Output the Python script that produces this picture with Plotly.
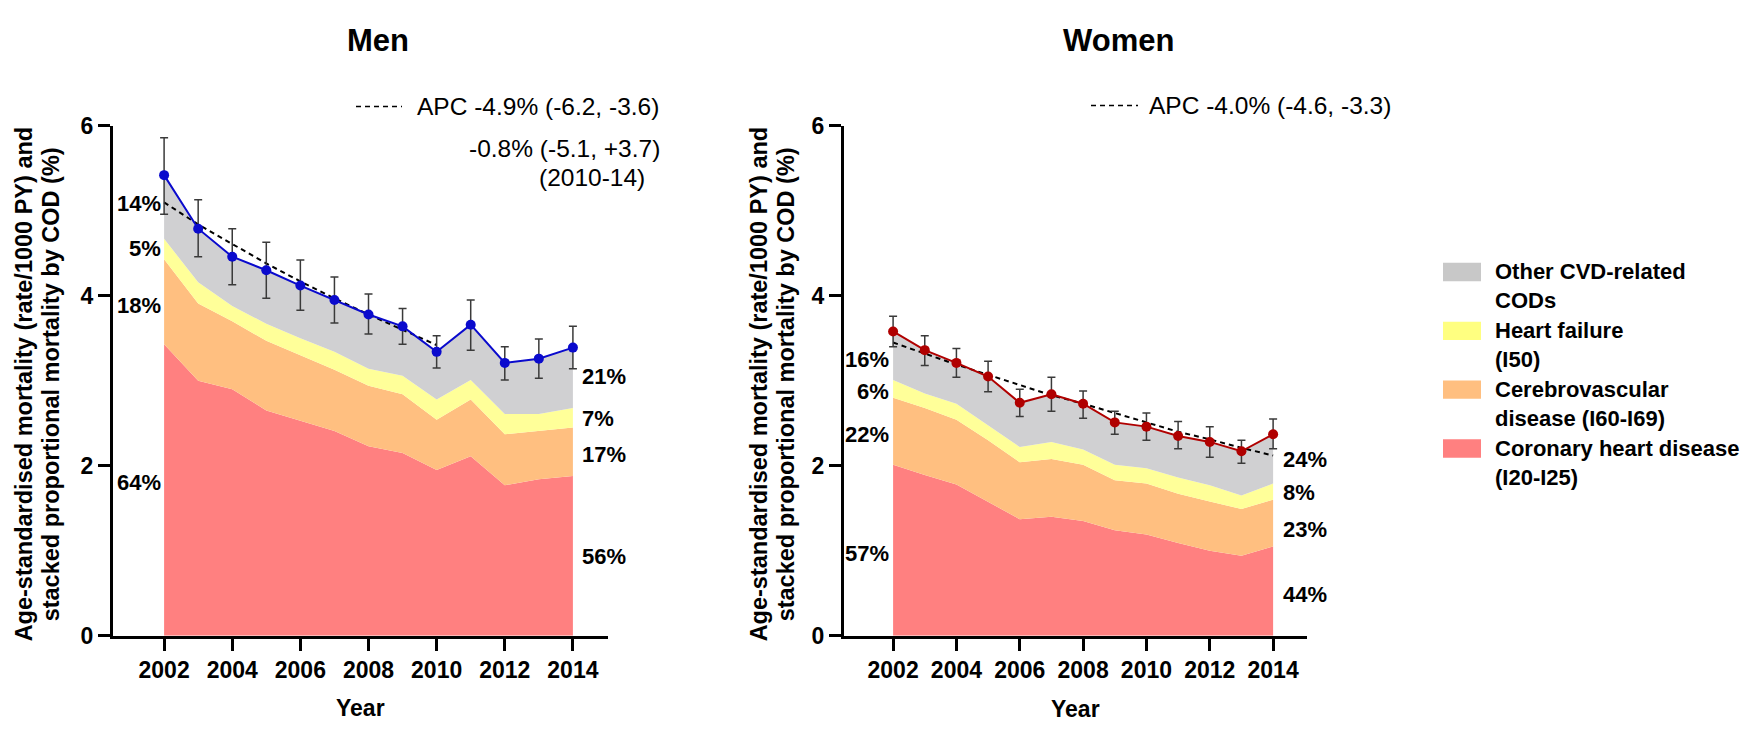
import plotly.graph_objects as go

# ---------------- data ----------------
years = list(range(2002, 2015))

# Men: stacked components (rate/1000 PY)
men_chd = [3.43, 3.00, 2.90, 2.65, 2.53, 2.41, 2.23, 2.15, 1.95, 2.11, 1.77, 1.84, 1.88]
men_cev = [1.00, 0.91, 0.80, 0.82, 0.77, 0.72, 0.71, 0.69, 0.59, 0.67, 0.60, 0.57, 0.57]
men_hf = [0.24, 0.25, 0.18, 0.20, 0.20, 0.21, 0.20, 0.22, 0.24, 0.23, 0.24, 0.20, 0.23]
men_other = [0.75, 0.63, 0.58, 0.63, 0.62, 0.61, 0.64, 0.58, 0.56, 0.65, 0.60, 0.65, 0.71]
men_total = [5.42, 4.79, 4.46, 4.30, 4.12, 3.95, 3.78, 3.64, 3.34, 3.66, 3.21, 3.26, 3.39]
men_upper = [5.86, 5.13, 4.79, 4.63, 4.42, 4.22, 4.02, 3.85, 3.53, 3.95, 3.40, 3.49, 3.64]
men_lower = [4.96, 4.46, 4.13, 3.97, 3.83, 3.68, 3.55, 3.43, 3.15, 3.36, 3.01, 3.03, 3.14]
men_trend_years = list(range(2002, 2011))
men_trend = [5.10, 4.84, 4.61, 4.38, 4.17, 3.97, 3.78, 3.60, 3.42]

# Women
women_chd = [2.01, 1.89, 1.78, 1.58, 1.37, 1.40, 1.35, 1.24, 1.19, 1.09, 1.00, 0.94, 1.05]
women_cev = [0.79, 0.79, 0.76, 0.72, 0.67, 0.68, 0.66, 0.59, 0.60, 0.58, 0.58, 0.55, 0.55]
women_hf = [0.21, 0.17, 0.19, 0.18, 0.18, 0.20, 0.18, 0.18, 0.18, 0.19, 0.19, 0.16, 0.19]
women_other = [0.57, 0.51, 0.48, 0.57, 0.52, 0.56, 0.54, 0.50, 0.49, 0.49, 0.51, 0.52, 0.58]
women_total = [3.58, 3.36, 3.21, 3.05, 2.74, 2.84, 2.73, 2.51, 2.46, 2.35, 2.28, 2.17, 2.37]
women_upper = [3.76, 3.53, 3.38, 3.23, 2.90, 3.04, 2.88, 2.64, 2.62, 2.52, 2.46, 2.30, 2.55]
women_lower = [3.40, 3.18, 3.04, 2.87, 2.58, 2.64, 2.56, 2.37, 2.30, 2.20, 2.10, 2.03, 2.20]
women_trend_years = list(range(2002, 2015))
women_trend = [3.45, 3.32, 3.19, 3.07, 2.95, 2.83, 2.73, 2.62, 2.51, 2.40, 2.31, 2.21, 2.12]

men_left_pct = ["14%", "5%", "18%", "64%"]
men_right_pct = ["21%", "7%", "17%", "56%"]
women_left_pct = ["16%", "6%", "22%", "57%"]
women_right_pct = ["24%", "8%", "23%", "44%"]

legend_labels = ["Other CVD-related<br>CODs", "Heart failure<br>(I50)",
                 "Cerebrovascular<br>disease (I60-I69)", "Coronary heart disease<br>(I20-I25)"]
men_apc = "APC -4.9% (-6.2, -3.6)"
men_apc2 = "-0.8% (-5.1, +3.7)"
men_apc2_period = "(2010-14)"
women_apc = "APC -4.0% (-4.6, -3.3)"
y_title_lines = ["Age-standardised mortality (rate/1000 PY) and",
                 "stacked proportional mortality by COD (%)"]
x_ticks = [2002, 2004, 2006, 2008, 2010, 2012, 2014]
y_ticks = [0, 2, 4, 6]

# ---------------- styling ----------------
W, H = 1745, 734
FONT = "Liberation Sans, Arial, sans-serif"
C_CHD = "#FF8080"
C_CEV = "#FFBF80"
C_HF = "#FFFF99"
C_OTH = "#D0D0D2"
C_MEN = "#0A0ACD"
C_WOMEN = "#B00000"


def px(x):
    return x / W


def py(y):
    return 1 - y / H


fig = go.Figure()


def add_panel(xa, ya, chd, cev, hf, oth, total, up, lo, ty, tv, col, grp):
    for vals, c in [(chd, C_CHD), (cev, C_CEV), (hf, C_HF), (oth, C_OTH)]:
        fig.add_trace(go.Scatter(x=years, y=vals, mode="lines", stackgroup=grp,
                                 line=dict(width=0, color=c), fillcolor=c,
                                 xaxis=xa, yaxis=ya, hoverinfo="skip"))
    fig.add_trace(go.Scatter(x=ty, y=tv, mode="lines",
                             line=dict(color="black", width=2, dash="5px,4px"),
                             xaxis=xa, yaxis=ya))
    fig.add_trace(go.Scatter(
        x=years, y=total, mode="lines+markers",
        line=dict(color=col, width=2), marker=dict(color=col, size=10),
        error_y=dict(type="data", symmetric=False,
                     array=[u - t for u, t in zip(up, total)],
                     arrayminus=[t - l for t, l in zip(total, lo)],
                     color="#3a3a3a", thickness=1.5, width=4),
        xaxis=xa, yaxis=ya))


add_panel("x", "y", men_chd, men_cev, men_hf, men_other, men_total, men_upper, men_lower,
          men_trend_years, men_trend, C_MEN, "men")
add_panel("x2", "y2", women_chd, women_cev, women_hf, women_other, women_total, women_upper,
          women_lower, women_trend_years, women_trend, C_WOMEN, "women")

axis_common = dict(showline=True, linewidth=3, linecolor="black", ticks="outside",
                   ticklen=12, tickwidth=3, tickcolor="black", showgrid=False, zeroline=False,
                   tickfont=dict(family=FONT, size=23, color="black", weight="bold"))

ydom = [py(645.5), py(117)]
fig.update_layout(
    width=W, height=H, margin=dict(l=0, r=0, t=0, b=0),
    paper_bgcolor="white", plot_bgcolor="white", showlegend=False,
    xaxis=dict(domain=[px(113), px(608)], range=[2000.5, 2015.03], tickvals=x_ticks,
               anchor="y", **axis_common),
    yaxis=dict(domain=ydom, range=[0, 6], tickvals=y_ticks, anchor="x", **axis_common),
    xaxis2=dict(domain=[px(844), px(1307)], range=[2000.45, 2015.07], tickvals=x_ticks,
                anchor="y2", **axis_common),
    yaxis2=dict(domain=ydom, range=[0, 6], tickvals=y_ticks, anchor="x2", **axis_common),
)

ann = []
shapes = []


def txt(x, y, s, size=20, bold=True, xanchor="center", yanchor="middle", angle=0):
    ann.append(dict(x=px(x), y=py(y), xref="paper", yref="paper", text=s, showarrow=False,
                    xanchor=xanchor, yanchor=yanchor, textangle=angle,
                    font=dict(family=FONT, size=size, color="black",
                              weight="bold" if bold else "normal")))


# titles
txt(378, 29, "Men", size=31)
txt(1118, 29, "Women", size=31)
# x titles
txt(360, 721, "Year", size=23)
txt(1075, 722, "Year", size=23)
# y titles (two lines each)
for x0 in (24, 759):
    txt(x0, 385, y_title_lines[0], size=23.5, angle=-90)
    txt(x0 + 27, 385, y_title_lines[1], size=23.5, angle=-90)

# APC annotations
txt(661, 97, men_apc, size=24.5, bold=False, xanchor="right")
txt(662, 140, men_apc2, size=24.5, bold=False, xanchor="right")
txt(647, 171, men_apc2_period, size=24.5, bold=False, xanchor="right")
txt(1393, 96, women_apc, size=24.5, bold=False, xanchor="right")
for x0, x1, yy in [(356, 402, 97), (1091, 1138, 96)]:
    shapes.append(dict(type="line", xref="paper", yref="paper", x0=px(x0), x1=px(x1),
                       y0=py(yy), y1=py(yy), line=dict(color="black", width=1.5, dash="5px,4px")))

# percent labels
for s, yy in zip(men_left_pct, [197, 244, 303, 487]):
    txt(163, yy, s, size=22, xanchor="right")
for s, yy in zip(men_right_pct, [377, 420, 458, 563]):
    txt(580, yy, s, size=22, xanchor="left")
for s, yy in zip(women_left_pct, [359, 392, 437, 560]):
    txt(891, yy, s, size=22, xanchor="right")
for s, yy in zip(women_right_pct, [463, 497, 535, 603]):
    txt(1281, yy, s, size=22, xanchor="left")

# legend
leg_cols = ["#C8C8C8", "#FFFF80", C_CEV, C_CHD]
for i, (lab, c) in enumerate(zip(legend_labels, leg_cols)):
    top = 259 + i * 61
    shapes.append(dict(type="rect", xref="paper", yref="paper", x0=px(1443), x1=px(1481),
                       y0=py(top + 19), y1=py(top), fillcolor=c, line=dict(width=0)))
    ann.append(dict(x=px(1493), y=py(top - 6), xref="paper", yref="paper", text=lab,
                    showarrow=False, xanchor="left", yanchor="top", align="left",
                    font=dict(family=FONT, size=22, color="black", weight="bold")))

fig.update_layout(annotations=ann, shapes=shapes)
fig.write_html("out.html", config={"displayModeBar": False},
               post_script="document.body.style.margin='0px';")
